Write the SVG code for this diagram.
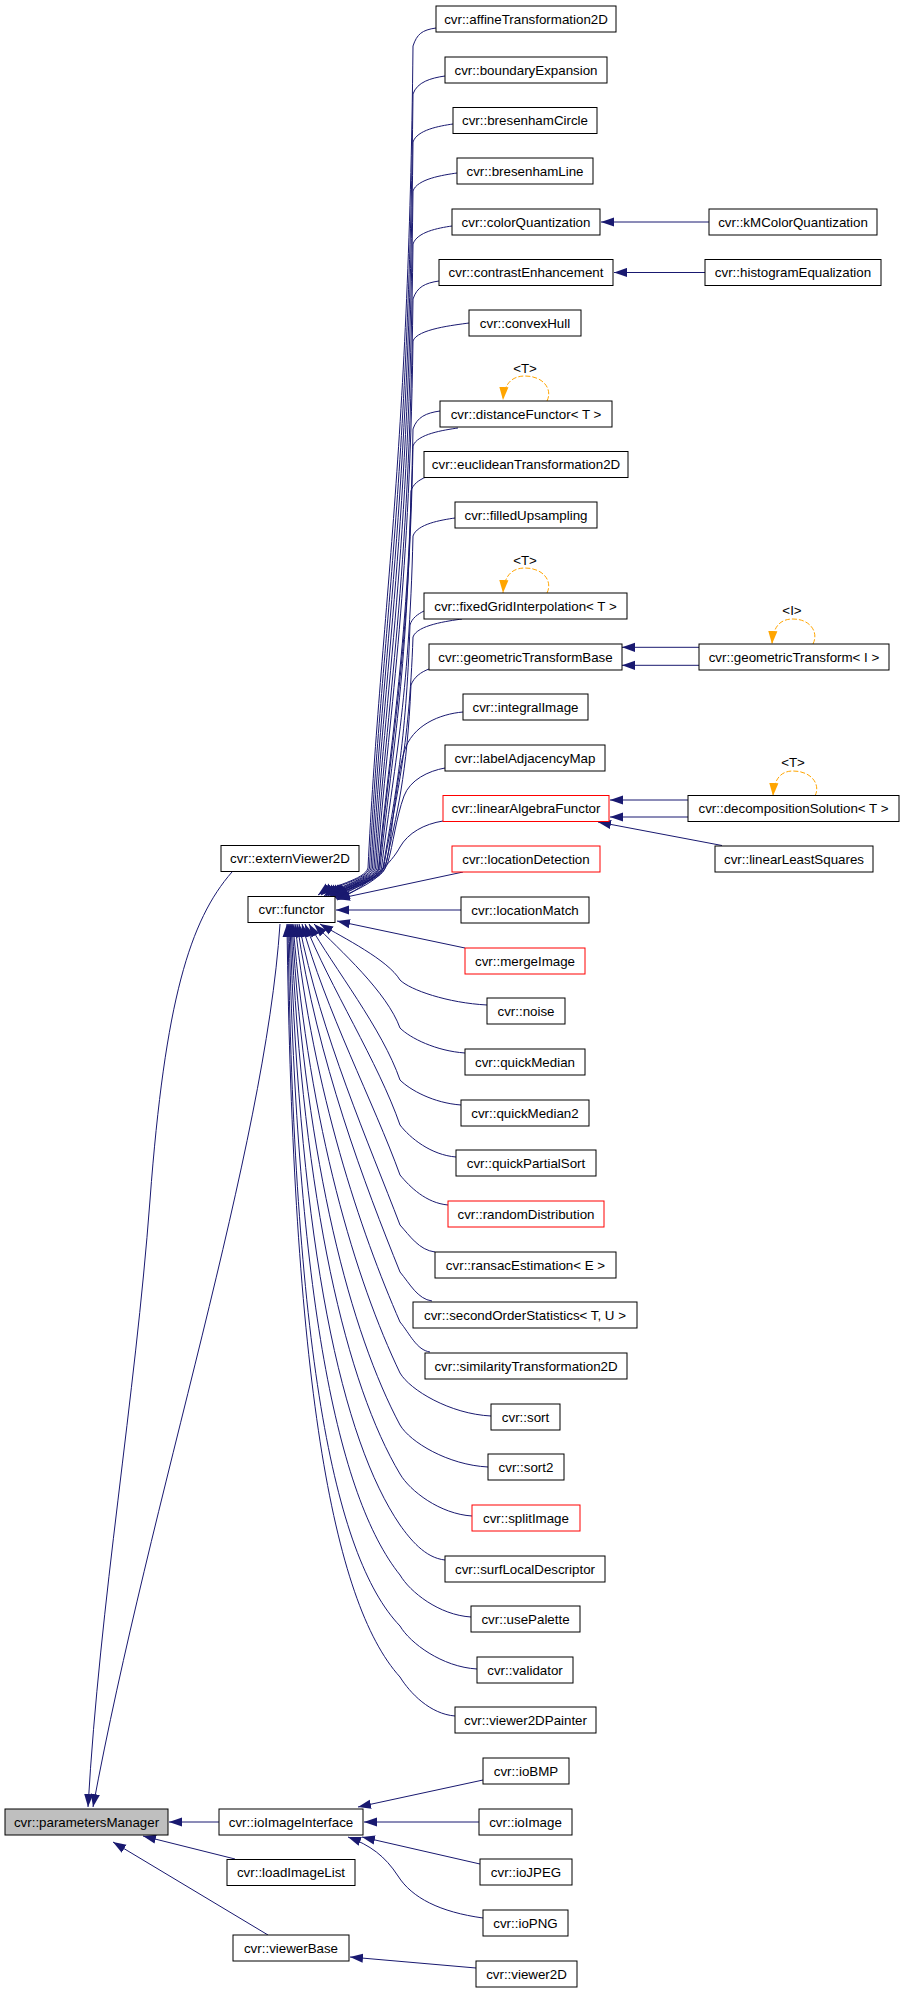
<svg xmlns="http://www.w3.org/2000/svg" width="904" height="1992" viewBox="0 0 904 1992">
<style>
.n rect{fill:#ffffff;stroke:#000000;stroke-width:1}
.n.red rect{stroke:#ff0000}
.n.root rect{fill:#bfbfbf}
text{font-family:"Liberation Sans",Arial,Helvetica,sans-serif;font-size:13.33px;fill:#000000;text-anchor:middle}
.e path{fill:none;stroke:#191970;stroke-width:1;marker-end:url(#ah)}
.e path.loop{stroke:#ffa500;stroke-dasharray:5,2;marker-end:url(#ao)}
</style>
<defs>
<marker id="ah" markerUnits="userSpaceOnUse" markerWidth="13" markerHeight="10" refX="13" refY="5" orient="auto" viewBox="0 0 13 10"><path d="M0,0.4 L13,5 L0,9.6 z" fill="#191970"/></marker>
<marker id="ao" markerUnits="userSpaceOnUse" markerWidth="13" markerHeight="10" refX="13" refY="5" orient="auto" viewBox="0 0 13 10"><path d="M0,0.4 L13,5 L0,9.6 z" fill="#ffa500"/></marker>
</defs>
<rect x="0" y="0" width="904" height="1992" fill="#ffffff"/>
<g id="edges" class="e">
<path d="M436,28 C422,30 417,34 413,46 C409,457 380,621 368,868 C365,880 330,886 318,895"/>
<path d="M445,76 C431,78 417,82 413,94 C409,481 381.5,636 369.5,868 C366.5,880 333,886 321,895"/>
<path d="M453,124 C439,126 417,130 413,142 C409,505 383,650 371,868 C368,880 336,887 324,896"/>
<path d="M457,173 C443,175 417,179 413,191 C409,530 384.5,665 372.5,868 C369.5,880 338,887 326,896"/>
<path d="M452,226 C438,228 417,232 413,244 C409,556 386,681 374,868 C371,880 340,887 328,896"/>
<path d="M439,281 C425,283 417,287 413,299 C409,584 387.5,697 375.5,868 C372.5,880 342,887 330,896"/>
<path d="M469,323 C455,325 417,329 413,341 C409,605 389,710 377,868 C374,880 343,887 331,896"/>
<path d="M440,411 C426,413 417,417 413,429 C409,649 390.5,736 378.5,868 C375.5,880 344,887 332,896"/>
<path d="M458,428 C444,430 417,434 413,446 C409,657 391,741 379,868 C376,880 345,887 333,896"/>
<path d="M426,477 C419,480 413,484 411,491 C407,680 392,755 380,868 C377,880 345,888 333,897"/>
<path d="M455,518 C441,520 417,524 413,536 C409,702 393.5,768 381.5,868 C378.5,880 346,888 334,897"/>
<path d="M424,611 C418,614 412,618 410,625 C406,746 395,795 383,868 C380,880 346,888 334,897"/>
<path d="M462,619 C448,621 417,625 413,637 C409,752 395.5,799 383.5,868 C380.5,880 347,888 335,897"/>
<path d="M429,669 C421,672 414,677 411,685 C407,776 397,813 385,868 C382,880 347,889 335,898"/>
<path d="M463,712 C440,714 412,725 404,752 C396,780 392,835 387,860 C383,878 350,890 336,898"/>
<path d="M445,768 C428,771 410,780 404,796 C396,818 393,845 388,862 C383,880 352,892 336,899"/>
<path d="M443,821 C424,824 408,833 400,847 C392,862 370,885 337,900"/>
<path d="M463,872 L337,899"/>
<path d="M461,910 L336,910"/>
<path d="M465,948 L337,921"/>
<path d="M487,1005 C448,1003 410,990 400,980 C388,960 344,938 320,924"/>
<path d="M465,1053 C436,1051 410,1038 400,1028 C387,992 340,950 314,924"/>
<path d="M461,1105 C433.5,1103 410,1090 400,1080 C382.5,1029 334,968 309,924"/>
<path d="M456,1157 C431,1155 410,1138 400,1125 C378.6,1063 329.5,986 305,924"/>
<path d="M448,1205 C426,1203 410,1187 400,1175 C374,1103 325,1009 302,924"/>
<path d="M435,1252 C419,1250 410,1236 400,1225 C369.6,1145 320.8,1035 299,924"/>
<path d="M432,1301 C417.6,1299 410,1284 400,1272 C365.4,1186 317.3,1061 297,924"/>
<path d="M430,1352 C416.5,1350 410,1334 400,1322 C360.7,1232 313.5,1093 295,924"/>
<path d="M491,1416 C450,1414 410,1390 400,1373 C356,1281 309.5,1128 293,924"/>
<path d="M488,1467 C448,1465 410,1442 400,1425 C351,1333 306.4,1166 292,924"/>
<path d="M472,1516 C440,1514 410,1491 400,1474 C347,1385 303.3,1206 291,924"/>
<path d="M445,1560 C425,1558 410,1539 400,1525 C342,1440 300,1250 290,924"/>
<path d="M471,1617 C439,1615 410,1592 400,1575 C337.5,1497 296.8,1296 289,924"/>
<path d="M477,1669 C442,1667 410,1643 400,1626 C332.8,1556 293.6,1345 288,924"/>
<path d="M455,1716 C430,1714 410,1693 400,1677 C332,1602 292.7,1376 287,924"/>
<path d="M709,222 L601,222"/>
<path d="M705,272.5 L614,272.5"/>
<path d="M699,647.3 L622,647.3"/>
<path d="M699,665.3 L622,665.3"/>
<path d="M688,800 L610,800"/>
<path d="M688,817 L610,817"/>
<path d="M722,845.5 L598,822"/>
<path d="M483,1780 L358,1807"/>
<path d="M479,1822 L364,1822"/>
<path d="M480,1864 L362,1837"/>
<path d="M483,1918 C440,1912 412,1898 398,1876 C385,1856 370,1845 348,1837"/>
<path d="M476,1968 L350,1957"/>
<path d="M219,1822 L169,1822"/>
<path d="M235,1859 L143,1836"/>
<path d="M268,1935 L113,1842"/>
<path d="M232,872 C190,920 165,1000 150,1200 C135,1400 100,1600 88,1807"/>
<path d="M280,924 C265,1150 150,1500 93,1807"/>
<path class="loop" d="M547,401 C553,389 543,376 525,376 C511,376 504,385 503,400"/>
<path class="loop" d="M547,593 C553,581 543,568 525,568 C511,568 504,577 503,593"/>
<path class="loop" d="M813,644 C819,632 810,619 793,619 C779,619 773,628 772,644"/>
<path class="loop" d="M815,796 C821,784 811,771 793,771 C780,771 774,780 773,796"/>
</g>
<g id="loop-labels">
<text x="525" y="373">&lt;T&gt;</text>
<text x="525" y="565">&lt;T&gt;</text>
<text x="792" y="615">&lt;I&gt;</text>
<text x="793" y="767">&lt;T&gt;</text>
</g>
<g id="node-affineTransformation2D" class="n"><rect x="436" y="6" width="180" height="26"/><text x="526" y="23.6">cvr::affineTransformation2D</text></g>
<g id="node-boundaryExpansion" class="n"><rect x="445" y="57" width="162" height="26"/><text x="526" y="74.6">cvr::boundaryExpansion</text></g>
<g id="node-bresenhamCircle" class="n"><rect x="453" y="107.5" width="144" height="26"/><text x="525" y="125.1">cvr::bresenhamCircle</text></g>
<g id="node-bresenhamLine" class="n"><rect x="457" y="158" width="136" height="26"/><text x="525" y="175.6">cvr::bresenhamLine</text></g>
<g id="node-colorQuantization" class="n"><rect x="452" y="209" width="148" height="26"/><text x="526" y="226.6">cvr::colorQuantization</text></g>
<g id="node-contrastEnhancement" class="n"><rect x="439" y="259.5" width="174" height="26"/><text x="526" y="277.1">cvr::contrastEnhancement</text></g>
<g id="node-convexHull" class="n"><rect x="469" y="310" width="112" height="26"/><text x="525" y="327.6">cvr::convexHull</text></g>
<g id="node-distanceFunctor" class="n"><rect x="440" y="401" width="172" height="26"/><text x="526" y="418.6">cvr::distanceFunctor&lt; T &gt;</text></g>
<g id="node-euclideanTransformation2D" class="n"><rect x="424" y="451.5" width="204" height="26"/><text x="526" y="469.1">cvr::euclideanTransformation2D</text></g>
<g id="node-filledUpsampling" class="n"><rect x="455" y="502" width="142" height="26"/><text x="526" y="519.6">cvr::filledUpsampling</text></g>
<g id="node-fixedGridInterpolation" class="n"><rect x="424" y="593" width="203" height="26"/><text x="525.5" y="610.6">cvr::fixedGridInterpolation&lt; T &gt;</text></g>
<g id="node-geometricTransformBase" class="n"><rect x="429" y="644" width="193" height="26"/><text x="525.5" y="661.6">cvr::geometricTransformBase</text></g>
<g id="node-integralImage" class="n"><rect x="463" y="694" width="125" height="26"/><text x="525.5" y="711.6">cvr::integralImage</text></g>
<g id="node-labelAdjacencyMap" class="n"><rect x="445" y="745" width="160" height="26"/><text x="525" y="762.6">cvr::labelAdjacencyMap</text></g>
<g id="node-linearAlgebraFunctor" class="n red"><rect x="443" y="795.5" width="166" height="26"/><text x="526" y="813.1">cvr::linearAlgebraFunctor</text></g>
<g id="node-locationDetection" class="n red"><rect x="452" y="846" width="148" height="26"/><text x="526" y="863.6">cvr::locationDetection</text></g>
<g id="node-locationMatch" class="n"><rect x="461" y="897" width="128" height="26"/><text x="525" y="914.6">cvr::locationMatch</text></g>
<g id="node-mergeImage" class="n red"><rect x="465" y="948" width="120" height="26"/><text x="525" y="965.6">cvr::mergeImage</text></g>
<g id="node-noise" class="n"><rect x="487" y="998" width="78" height="26"/><text x="526" y="1015.6">cvr::noise</text></g>
<g id="node-quickMedian" class="n"><rect x="465" y="1049" width="120" height="26"/><text x="525" y="1066.6">cvr::quickMedian</text></g>
<g id="node-quickMedian2" class="n"><rect x="461" y="1100" width="128" height="26"/><text x="525" y="1117.6">cvr::quickMedian2</text></g>
<g id="node-quickPartialSort" class="n"><rect x="456" y="1150" width="140" height="26"/><text x="526" y="1167.6">cvr::quickPartialSort</text></g>
<g id="node-randomDistribution" class="n red"><rect x="448" y="1201" width="156" height="26"/><text x="526" y="1218.6">cvr::randomDistribution</text></g>
<g id="node-ransacEstimation" class="n"><rect x="435" y="1252" width="181" height="26"/><text x="525.5" y="1269.6">cvr::ransacEstimation&lt; E &gt;</text></g>
<g id="node-secondOrderStatistics" class="n"><rect x="413" y="1302" width="224" height="26"/><text x="525" y="1319.6">cvr::secondOrderStatistics&lt; T, U &gt;</text></g>
<g id="node-similarityTransformation2D" class="n"><rect x="425" y="1353" width="202" height="26"/><text x="526" y="1370.6">cvr::similarityTransformation2D</text></g>
<g id="node-sort" class="n"><rect x="491" y="1404" width="69" height="26"/><text x="525.5" y="1421.6">cvr::sort</text></g>
<g id="node-sort2" class="n"><rect x="488" y="1454" width="76" height="26"/><text x="526" y="1471.6">cvr::sort2</text></g>
<g id="node-splitImage" class="n red"><rect x="472" y="1505" width="108" height="26"/><text x="526" y="1522.6">cvr::splitImage</text></g>
<g id="node-surfLocalDescriptor" class="n"><rect x="445" y="1556" width="160" height="26"/><text x="525" y="1573.6">cvr::surfLocalDescriptor</text></g>
<g id="node-usePalette" class="n"><rect x="471" y="1606" width="109" height="26"/><text x="525.5" y="1623.6">cvr::usePalette</text></g>
<g id="node-validator" class="n"><rect x="477" y="1657" width="96" height="26"/><text x="525" y="1674.6">cvr::validator</text></g>
<g id="node-viewer2DPainter" class="n"><rect x="455" y="1707" width="141" height="26"/><text x="525.5" y="1724.6">cvr::viewer2DPainter</text></g>
<g id="node-ioBMP" class="n"><rect x="483" y="1758" width="86" height="26"/><text x="526" y="1775.6">cvr::ioBMP</text></g>
<g id="node-ioImage" class="n"><rect x="479" y="1809" width="93" height="26"/><text x="525.5" y="1826.6">cvr::ioImage</text></g>
<g id="node-ioJPEG" class="n"><rect x="480" y="1859" width="92" height="26"/><text x="526" y="1876.6">cvr::ioJPEG</text></g>
<g id="node-ioPNG" class="n"><rect x="483" y="1910" width="85" height="26"/><text x="525.5" y="1927.6">cvr::ioPNG</text></g>
<g id="node-viewer2D" class="n"><rect x="476" y="1961" width="101" height="26"/><text x="526.5" y="1978.6">cvr::viewer2D</text></g>
<g id="node-kMColorQuantization" class="n"><rect x="709" y="209" width="168" height="26"/><text x="793" y="226.6">cvr::kMColorQuantization</text></g>
<g id="node-histogramEqualization" class="n"><rect x="705" y="259.5" width="176" height="26"/><text x="793" y="277.1">cvr::histogramEqualization</text></g>
<g id="node-geometricTransform" class="n"><rect x="699" y="644" width="190" height="26"/><text x="794" y="661.6">cvr::geometricTransform&lt; I &gt;</text></g>
<g id="node-decompositionSolution" class="n"><rect x="688" y="795.5" width="211" height="26"/><text x="793.5" y="813.1">cvr::decompositionSolution&lt; T &gt;</text></g>
<g id="node-linearLeastSquares" class="n"><rect x="715" y="846" width="158" height="26"/><text x="794" y="863.6">cvr::linearLeastSquares</text></g>
<g id="node-externViewer2D" class="n"><rect x="221" y="845.5" width="138" height="26"/><text x="290" y="863.1">cvr::externViewer2D</text></g>
<g id="node-functor" class="n"><rect x="248" y="896.5" width="87" height="26"/><text x="291.5" y="914.1">cvr::functor</text></g>
<g id="node-ioImageInterface" class="n"><rect x="219" y="1809" width="144" height="26"/><text x="291" y="1826.6">cvr::ioImageInterface</text></g>
<g id="node-loadImageList" class="n"><rect x="227" y="1859.5" width="128" height="26"/><text x="291" y="1877.1">cvr::loadImageList</text></g>
<g id="node-viewerBase" class="n"><rect x="233" y="1935" width="116" height="26"/><text x="291" y="1952.6">cvr::viewerBase</text></g>
<g id="node-parametersManager" class="n root"><rect x="5" y="1809" width="163" height="26"/><text x="86.5" y="1826.6">cvr::parametersManager</text></g>
</svg>
